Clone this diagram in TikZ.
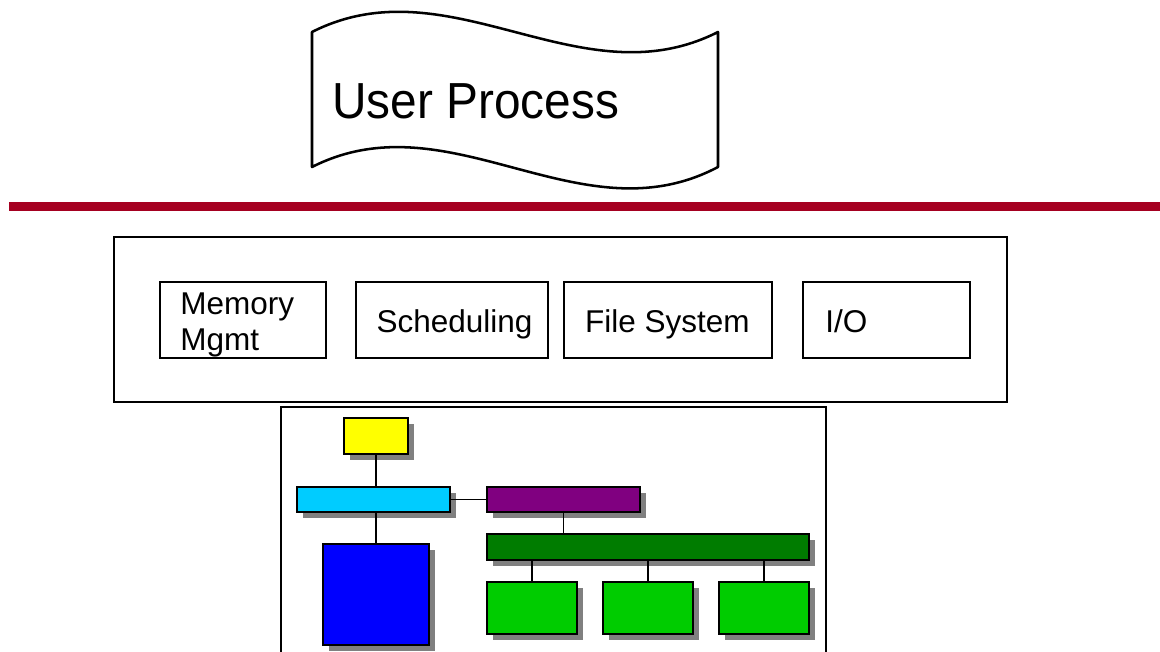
\documentclass[tikz,border=0pt]{standalone}
\usepackage{fontspec}
\setmainfont{Liberation Sans}
\usetikzlibrary{fit,shadows}

\definecolor{rulered}{RGB}{165,0,33}
\definecolor{chyellow}{RGB}{255,255,0}
\definecolor{chcyan}{RGB}{0,204,255}
\definecolor{chpurple}{RGB}{128,0,128}
\definecolor{chdkgreen}{RGB}{0,124,0}
\definecolor{chgreen}{RGB}{0,204,0}
\definecolor{chblue}{RGB}{0,0,255}
\definecolor{chshadow}{RGB}{128,128,128}

\tikzset{
  frame/.style={draw=black, line width=1.4pt},
  modbox/.style={draw=black, line width=1.4pt, inner sep=0pt},
  modlabel/.style={inner sep=0pt, font=\fontsize{22.4}{25.6}\selectfont},
  chartbox/.style={draw=black, line width=1.7pt, inner sep=0pt, fill=#1,
    drop shadow={shadow xshift=0.14cm, shadow yshift=-0.14cm,
                 fill=chshadow, opacity=1}},
  link/.style={draw=black, line width=1.4pt},
  wave/.style={draw=black, line width=1.8pt, fill=white, line join=round}
}

\begin{document}
\begin{tikzpicture}[x=0.025cm, y=-0.025cm]
\useasboundingbox (0,0) rectangle (1160,652);

% user process banner
\draw[wave] (312,32) .. controls (450,-38) and (580,102) .. (718,32)
  -- (718,167) .. controls (580,240) and (450,97) .. (312,167) -- cycle;
\node[inner sep=0pt, anchor=base west, font=\fontsize{34}{40}\selectfont]
  (user) at (332,118) {\scalebox{1}[1.06]{User Process}};

% user/kernel boundary
\draw[rulered, line width=6pt] (9,206.5) -- (1160,206.5);

% kernel services
\node[frame, fit={(114,237) (1007,402)}, inner sep=0pt] (kernel) {};
\node[modbox, fit={(160,282) (326,358)}] (mem) {};
\node[modbox, fit={(356,282) (548,358)}] (sched) {};
\node[modbox, fit={(564,282) (772,358)}] (fs) {};
\node[modbox, fit={(803,282) (970,358)}] (io) {};

\node[modlabel, anchor=base west, align=left] (memlbl) at (180,350) {Memory\\Mgmt};
\node[modlabel, anchor=base] (schedlbl) at (454.5,332) {Scheduling};
\node[modlabel, anchor=base] (fslbl) at (667.5,332) {File System};
\node[modlabel, anchor=base west] (iolbl) at (825,332) {I/O};

% hardware frame, open at the bottom
\draw[black, line width=1.7pt] (281,665) -- (281,407) -- (826,407) -- (826,665);

% hierarchy chart
\node[chartbox=chyellow,  fit={(344,418) (408,454)}] (top) {};
\node[chartbox=chcyan,    fit={(297,487) (450,512)}] (bus) {};
\node[chartbox=chblue,    fit={(323,544) (429,645)}] (mem2) {};
\node[chartbox=chpurple,  fit={(487,487) (640,512)}] (bridge) {};
\node[chartbox=chdkgreen, fit={(487,534) (809,560)}] (iobus) {};
\node[chartbox=chgreen,   fit={(487,582) (577,634)}] (dev1) {};
\node[chartbox=chgreen,   fit={(603,582) (693,634)}] (dev2) {};
\node[chartbox=chgreen,   fit={(719,582) (809,634)}] (dev3) {};

\draw[link] (top.south) -- (top.south |- bus.north);
\draw[link] (mem2.north) -- (mem2.north |- bus.south);
\draw[link] (bus.east) -- (bridge.west);
\draw[link] (bridge.south) -- (bridge.south |- iobus.north);
\draw[link] (dev1.north) -- (dev1.north |- iobus.south);
\draw[link] (dev2.north) -- (dev2.north |- iobus.south);
\draw[link] (dev3.north) -- (dev3.north |- iobus.south);
\end{tikzpicture}
\end{document}
